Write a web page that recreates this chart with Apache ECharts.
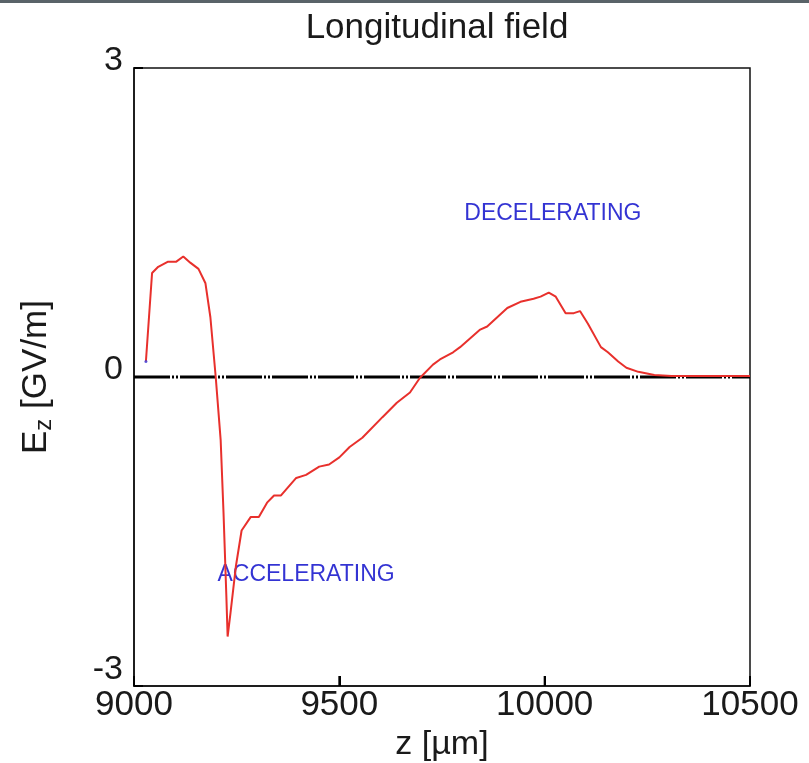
<!DOCTYPE html>
<html>
<head>
<meta charset="utf-8">
<script src="https://cdn.jsdelivr.net/npm/echarts@6/dist/echarts.min.js"></script>
<style>
html,body{margin:0;padding:0;background:#fff;}
#chart{width:809px;height:763px;}
</style>
</head>
<body>
<div id="chart"></div>
<script>
// z positions [µm]
var zValues = [9029, 9044, 9059, 9083, 9103, 9120, 9137, 9157, 9174, 9186, 9199, 9211, 9218, 9225, 9228, 9235, 9248, 9262, 9284, 9304, 9324, 9341, 9358, 9395, 9419, 9451, 9475, 9500, 9525, 9556, 9605, 9640, 9672, 9696, 9728, 9745, 9777, 9794, 9843, 9860, 9909, 9941, 9973, 9990, 10010, 10027, 10051, 10071, 10086, 10105, 10137, 10154, 10179, 10199, 10228, 10267, 10309, 10400, 10500];
// Ez [GV/m]
var ezValues = [0.15, 1.01, 1.07, 1.12, 1.12, 1.17, 1.11, 1.05, 0.91, 0.58, 0.0, -0.61, -1.32, -2.14, -2.52, -2.29, -1.84, -1.49, -1.36, -1.36, -1.22, -1.15, -1.15, -0.98, -0.95, -0.87, -0.85, -0.78, -0.68, -0.59, -0.39, -0.25, -0.15, -0.01, 0.12, 0.17, 0.24, 0.29, 0.46, 0.49, 0.67, 0.73, 0.76, 0.78, 0.82, 0.78, 0.62, 0.62, 0.64, 0.52, 0.29, 0.24, 0.15, 0.09, 0.05, 0.02, 0.01, 0.01, 0.01];
var xTicks = [9000, 9500, 10000, 10500];
var yTicks = [-3, 0, 3];
var annotationText = ['DECELERATING', 'ACCELERATING'];
var annotationZ = [10020, 9419];
var annotationEz = [1.59, -1.92];
var startMarker = [[9029, 0.15]];

var lineData = zValues.map(function (z, i) { return [z, ezValues[i]]; });
var annData = annotationText.map(function (t, i) { return { value: [annotationZ[i], annotationEz[i]], name: t }; });
var xTickData = xTicks.map(function (v) { return [v, yTicks[0]]; });

var FONT = 'Liberation Sans';
var chart = echarts.init(document.getElementById('chart'), null, { renderer: 'canvas' });
chart.setOption({
  backgroundColor: '#ffffff',
  animation: false,
  title: {
    text: 'Longitudinal field',
    left: 432,
    top: 6,
    textAlign: 'center',
    textStyle: { fontFamily: FONT, fontSize: 35, fontWeight: 'normal', color: '#1a1a1a' }
  },
  graphic: [{
    type: 'rect', left: 0, top: 0, shape: { width: 809, height: 3 },
    style: { fill: '#596368' }, silent: true
  }],
  grid: {
    left: 134, right: 59, top: 68, bottom: 77,
    containLabel: false,
    outerBoundsMode: 'none',
    show: true, borderColor: '#111', borderWidth: 1.5, backgroundColor: 'transparent'
  },
  xAxis: {
    type: 'value',
    min: xTicks[0], max: xTicks[xTicks.length - 1], interval: xTicks[1] - xTicks[0],
    axisLine: { onZero: false, lineStyle: { color: '#111', width: 1.5 } },
    axisTick: { show: true, inside: true, length: 10, lineStyle: { color: '#000', width: 2 } },
    splitLine: { show: false },
    axisLabel: {
      show: true,
      formatter: function (v) { return String(v); },
      fontFamily: FONT, fontSize: 35, color: '#1a1a1a', margin: 2
    },
    name: 'z [µm]',
    nameLocation: 'middle',
    nameGap: 40,
    nameTextStyle: { fontFamily: FONT, fontSize: 34, color: '#1a1a1a' }
  },
  yAxis: {
    type: 'value',
    min: yTicks[0], max: yTicks[yTicks.length - 1], interval: yTicks[1] - yTicks[0],
    axisLine: { onZero: false, lineStyle: { color: '#111', width: 1.5 } },
    axisTick: { show: true, inside: true, length: 9, lineStyle: { color: '#000', width: 2 } },
    splitLine: { show: false },
    axisLabel: {
      margin: 11,
      formatter: function (v) { return v === yTicks[0] ? '{b|' + v + '}' : '{a|' + v + '}'; },
      rich: {
        a: { fontFamily: FONT, fontSize: 34, color: '#1a1a1a', padding: [0, 0, 14, 0] },
        b: { fontFamily: FONT, fontSize: 34, color: '#1a1a1a', padding: [0, 0, 32, 0] }
      }
    },
    name: '{e|E}{s|z}{e| [GV/m]}',
    nameLocation: 'middle',
    nameGap: 78,
    nameRotate: 90,
    nameTextStyle: {
      rich: {
        e: { fontFamily: FONT, fontSize: 35, color: '#1a1a1a', lineHeight: 40, verticalAlign: 'middle' },
        s: { fontFamily: FONT, fontSize: 24, color: '#1a1a1a', lineHeight: 40, verticalAlign: 'bottom', padding: [41, 0, 0, 0] }
      }
    }
  },
  series: [
    {
      type: 'line',
      data: [[xTicks[0], 0], [xTicks[xTicks.length - 1], 0]],
      symbol: 'none',
      silent: true,
      lineStyle: { color: '#000', width: 3, type: [36, 2, 2, 2, 2, 2], cap: 'butt' },
      z: 2
    },
    {
      type: 'custom',
      coordinateSystem: 'cartesian2d',
      data: xTickData,
      encode: { x: 0, y: 1 },
      silent: true,
      clip: false,
      renderItem: function (params, api) {
        var p = api.coord([api.value(0), api.value(1)]);
        return {
          type: 'rect',
          shape: { x: p[0] - 1, y: p[1] - 10, width: 2, height: 10 },
          style: { fill: '#000' }
        };
      },
      z: 5
    },
    {
      type: 'line',
      data: lineData,
      symbol: 'none',
      smooth: false,
      lineStyle: { color: '#e8302c', width: 2 },
      z: 3
    },
    {
      type: 'scatter',
      data: startMarker,
      symbol: 'circle',
      symbolSize: 3,
      itemStyle: { color: '#3a3ad8' },
      z: 4
    },
    {
      type: 'scatter',
      data: annData,
      symbolSize: 0,
      label: {
        show: true,
        position: 'inside',
        formatter: function (p) { return p.name; },
        fontFamily: FONT,
        fontSize: 23,
        color: '#0000c8'
      },
      z: 1
    }
  ]
});
</script>
</body>
</html>
